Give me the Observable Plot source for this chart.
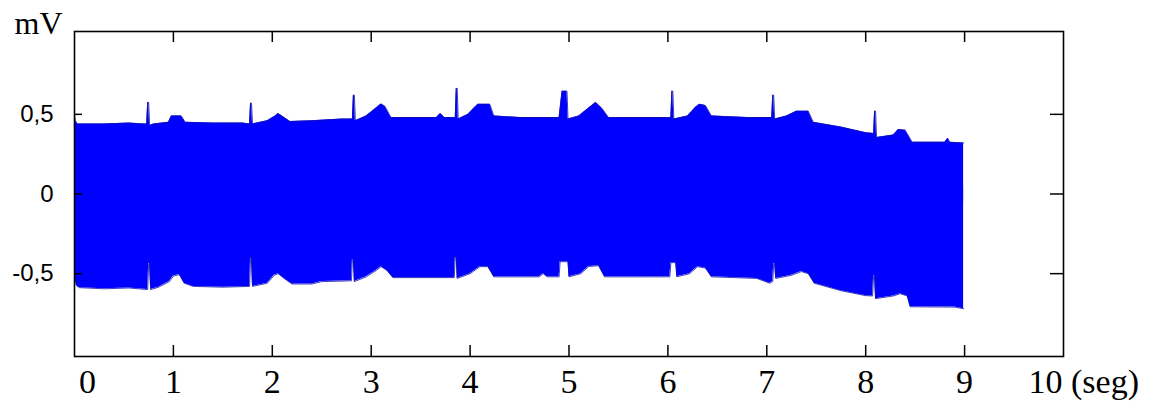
<!DOCTYPE html>
<html>
<head>
<meta charset="utf-8">
<script src="https://cdn.jsdelivr.net/npm/d3@7"></script>
<script src="https://cdn.jsdelivr.net/npm/@observablehq/plot@0.6"></script>
<style>
  html, body { margin: 0; padding: 0; background: #ffffff; }
  #chart svg { display: block; }
</style>
</head>
<body>
<div id="chart"></div>
<script>
// Upper envelope of the noisy ECG trace: [time (s), mV]
const upperEnvelope = [
  [0.00, 0.49], [0.01, 0.46], [0.03, 0.44], [0.30, 0.44], [0.55, 0.445], [0.70, 0.44],
  [0.73, 0.44], [0.74, 0.575], [0.75, 0.575], [0.76, 0.43], [0.80, 0.44], [0.95, 0.45],
  [0.98, 0.49], [1.08, 0.49], [1.12, 0.45], [1.40, 0.445], [1.70, 0.445], [1.77, 0.44],
  [1.78, 0.57], [1.79, 0.57], [1.80, 0.44], [1.95, 0.46], [2.03, 0.49], [2.06, 0.505],
  [2.12, 0.48], [2.18, 0.455], [2.40, 0.46], [2.70, 0.47], [2.81, 0.47], [2.82, 0.62],
  [2.83, 0.62], [2.84, 0.46], [2.95, 0.49], [3.05, 0.54], [3.10, 0.565], [3.14, 0.55],
  [3.20, 0.48], [3.50, 0.48], [3.66, 0.48], [3.70, 0.505], [3.74, 0.48], [3.85, 0.48],
  [3.86, 0.663], [3.87, 0.663], [3.88, 0.47], [3.98, 0.50], [4.04, 0.54], [4.08, 0.563],
  [4.20, 0.563], [4.24, 0.49], [4.50, 0.48], [4.90, 0.48], [4.93, 0.645], [4.98, 0.645],
  [4.99, 0.47], [5.10, 0.49], [5.20, 0.54], [5.27, 0.575], [5.33, 0.54], [5.40, 0.48],
  [5.80, 0.48], [6.03, 0.48], [6.04, 0.645], [6.05, 0.645], [6.06, 0.47], [6.20, 0.49],
  [6.28, 0.545], [6.32, 0.563], [6.38, 0.555], [6.44, 0.49], [6.80, 0.48], [7.05, 0.48],
  [7.06, 0.62], [7.07, 0.62], [7.08, 0.47], [7.20, 0.49], [7.30, 0.52], [7.42, 0.52],
  [7.47, 0.45], [7.75, 0.42], [8.00, 0.385], [8.08, 0.38], [8.09, 0.52], [8.10, 0.52],
  [8.11, 0.355], [8.28, 0.37], [8.33, 0.405], [8.40, 0.40], [8.47, 0.325], [8.80, 0.325],
  [8.83, 0.35], [8.85, 0.325], [8.99, 0.32]
];

// Lower envelope of the noisy ECG trace: [time (s), mV]
const lowerEnvelope = [
  [0.00, -0.49], [0.005, -0.525], [0.02, -0.575], [0.05, -0.588], [0.30, -0.595], [0.55, -0.59],
  [0.74, -0.60], [0.75, -0.437], [0.76, -0.437], [0.77, -0.60], [0.85, -0.585], [0.96, -0.55],
  [1.00, -0.515], [1.06, -0.506], [1.11, -0.56], [1.20, -0.58], [1.50, -0.585], [1.77, -0.58],
  [1.78, -0.406], [1.79, -0.406], [1.80, -0.58], [1.95, -0.56], [2.02, -0.51], [2.06, -0.50],
  [2.12, -0.53], [2.20, -0.565], [2.40, -0.565], [2.50, -0.55], [2.80, -0.545], [2.81, -0.412],
  [2.82, -0.412], [2.83, -0.55], [2.95, -0.52], [3.05, -0.48], [3.10, -0.456], [3.16, -0.48],
  [3.22, -0.525], [3.84, -0.525], [3.85, -0.40], [3.86, -0.40], [3.87, -0.53], [4.00, -0.50],
  [4.10, -0.456], [4.18, -0.456], [4.24, -0.52], [4.70, -0.52], [4.74, -0.50], [4.78, -0.52],
  [4.90, -0.52], [4.91, -0.425], [4.99, -0.425], [5.00, -0.52], [5.12, -0.50], [5.20, -0.455],
  [5.30, -0.45], [5.36, -0.52], [5.80, -0.52], [6.02, -0.52], [6.03, -0.431], [6.08, -0.431],
  [6.09, -0.52], [6.22, -0.50], [6.30, -0.456], [6.38, -0.465], [6.44, -0.52], [6.90, -0.53],
  [7.03, -0.56], [7.06, -0.55], [7.07, -0.437], [7.08, -0.437], [7.09, -0.53], [7.25, -0.51],
  [7.35, -0.487], [7.42, -0.50], [7.48, -0.56], [7.75, -0.607], [8.00, -0.638], [8.07, -0.64],
  [8.08, -0.513], [8.09, -0.513], [8.10, -0.657], [8.28, -0.64], [8.35, -0.626], [8.42, -0.64],
  [8.45, -0.708], [8.90, -0.71], [8.99, -0.72]
];

const xTicks = [1, 2, 3, 4, 5, 6, 7, 8, 9];
const xTickLabels = ["1", "2", "3", "4", "5", "6", "7", "8", "9"];
const xFirstLabel = "0";
const xLastLabel = "10 (seg)";
const yTicks = [0.5, 0, -0.5];
const yTickLabels = ["0,5", "0", "-0,5"];
const yUnit = "mV";

const blue = "#0000ff";
const serif = "'Liberation Serif', 'DejaVu Serif', serif";
const sans = "'Liberation Sans', Arial, sans-serif";

const W = 1170, H = 415, mL = 74, mR = 107, mT = 31, mB = 59;
const innerW = W - mL - mR, innerH = H - mT - mB;

const chart = Plot.plot({
  width: W,
  height: H,
  marginLeft: mL,
  marginRight: mR,
  marginTop: mT,
  marginBottom: mB,
  style: { background: "#ffffff", overflow: "visible" },
  x: { domain: [0, 10], axis: null },
  y: { domain: [-1.02, 1.02], axis: null },
  marks: [
    Plot.areaY(upperEnvelope, { x: d => d[0], y1: -0.05, y2: d => d[1], fill: blue }),
    Plot.areaY(lowerEnvelope, { x: d => d[0], y1: 0.05, y2: d => d[1], fill: blue }),
    Plot.line(upperEnvelope, { x: d => d[0], y: d => d[1], stroke: "#1010b0", strokeWidth: 0.8 }),
    Plot.line(lowerEnvelope, { x: d => d[0], y: d => d[1], stroke: "#1010b0", strokeWidth: 0.8 }),
    // inward ticks
    Plot.ruleX(xTicks, { x: d => d, insetBottom: innerH - 11, stroke: "#000", strokeWidth: 1.5 }),
    Plot.ruleX(xTicks, { x: d => d, insetTop: innerH - 11, stroke: "#000", strokeWidth: 1.5 }),
    Plot.ruleY(yTicks, { y: d => d, insetRight: innerW - 8, stroke: "#000", strokeWidth: 1.5 }),
    Plot.ruleY(yTicks, { y: d => d, insetLeft: innerW - 13, stroke: "#000", strokeWidth: 1.5 }),
    Plot.frame({ stroke: "#000000", strokeWidth: 1.6 }),
    // x tick labels
    Plot.text(xTicks, { x: d => d, text: (d, i) => xTickLabels[i], frameAnchor: "bottom", dy: 36, fontSize: 34, fontFamily: serif, fill: "#000" }),
    Plot.text([0], { x: d => d, text: () => xFirstLabel, frameAnchor: "bottom", dy: 36, dx: 13, fontSize: 34, fontFamily: serif, fill: "#000" }),
    Plot.text([10], { x: d => d, text: () => xLastLabel, frameAnchor: "bottom", dy: 36, dx: -35, textAnchor: "start", fontSize: 34, fontFamily: serif, fill: "#000" }),
    // y tick labels
    Plot.text(yTicks, { y: d => d, text: (d, i) => yTickLabels[i], frameAnchor: "left", dx: -21, textAnchor: "end", fontSize: 24, fontFamily: sans, fill: "#000" }),
    Plot.text([yUnit], { text: d => d, frameAnchor: "top-left", dx: -12, dy: -8, textAnchor: "end", lineAnchor: "middle", fontSize: 32, fontFamily: serif, fill: "#000" })
  ]
});

document.getElementById("chart").appendChild(chart);
</script>
</body>
</html>
